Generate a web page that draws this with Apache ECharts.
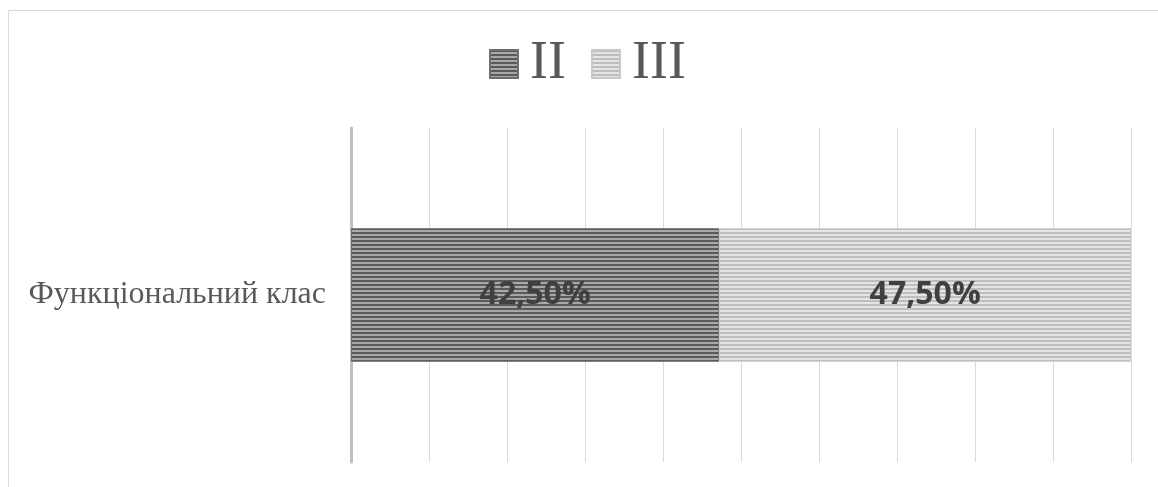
<!DOCTYPE html>
<html>
<head>
<meta charset="utf-8">
<script src="https://cdn.jsdelivr.net/npm/echarts@6/dist/echarts.min.js"></script>
<style>
  html, body { margin: 0; padding: 0; background: #ffffff; }
  #chart { width: 1158px; height: 487px; }
</style>
</head>
<body>
<div id="chart"></div>
<script>
// Chart data
const categories = ['Функціональний клас'];
const seriesNames = ['II', 'III'];
const valuesII = [42.5];
const valuesIII = [47.5];
const axisMax = 90;
const axisStep = 9;

// Horizontal stripe fill built on a small canvas tile
function stripes(dark, light) {
  const c = document.createElement('canvas');
  c.width = 4; c.height = 4;
  const g = c.getContext('2d');
  g.fillStyle = light; g.fillRect(0, 0, 4, 4);
  g.fillStyle = dark; g.fillRect(0, 0, 4, 2);
  return { image: c, repeat: 'repeat' };
}

const fillII = stripes('#5a5a5a', '#a8a8a8');
const fillIII = stripes('#bdbdbd', '#e4e4e4');

const fmt = v => v.toFixed(2).replace('.', ',') + '%';

const labelStyle = {
  show: true,
  position: 'inside',
  fontFamily: '"Open Sans", sans-serif',
  fontWeight: 'bold',
  fontSize: 32,
  color: '#404040',
  formatter: p => fmt(p.value)
};

const chart = echarts.init(document.getElementById('chart'));
chart.setOption({
  animation: false,
  backgroundColor: '#ffffff',
  graphic: [{
    type: 'rect',
    shape: { x: 8.5, y: 10.5, width: 1400, height: 700 },
    style: { fill: 'none', stroke: '#d9d9d9', lineWidth: 1 },
    silent: true
  }],
  legend: {
    top: 32,
    left: 484,
    itemWidth: 28,
    itemHeight: 28,
    itemGap: 25,
    icon: 'rect',
    textStyle: {
      fontFamily: '"Liberation Serif", serif',
      fontSize: 54,
      color: '#595959',
      padding: [6, 0, 0, 7]
    },
    data: seriesNames
  },
  grid: { left: 351, right: 27, top: 128, bottom: 25, containLabel: false },
  xAxis: {
    type: 'value',
    min: 0,
    max: axisMax,
    interval: axisStep,
    axisLabel: { show: false },
    axisLine: { show: false },
    axisTick: { show: false },
    splitLine: { show: true, lineStyle: { color: '#d9d9d9', width: 1 } }
  },
  yAxis: {
    type: 'category',
    data: categories,
    axisLine: { show: true, lineStyle: { color: '#bfbfbf', width: 3 } },
    axisTick: { show: false },
    axisLabel: {
      margin: 25,
      fontFamily: '"Liberation Serif", serif',
      fontSize: 32,
      color: '#595959',
      padding: [4, 0, 0, 0]
    }
  },
  series: [
    {
      name: seriesNames[0],
      type: 'bar',
      stack: 'total',
      barWidth: '40%',
      data: valuesII,
      itemStyle: { color: fillII, borderColor: '#6e6e6e', borderWidth: 1 },
      label: labelStyle
    },
    {
      name: seriesNames[1],
      type: 'bar',
      stack: 'total',
      barWidth: '40%',
      data: valuesIII,
      itemStyle: { color: fillIII, borderColor: '#c8c8c8', borderWidth: 1 },
      label: labelStyle
    }
  ]
});
</script>
</body>
</html>
